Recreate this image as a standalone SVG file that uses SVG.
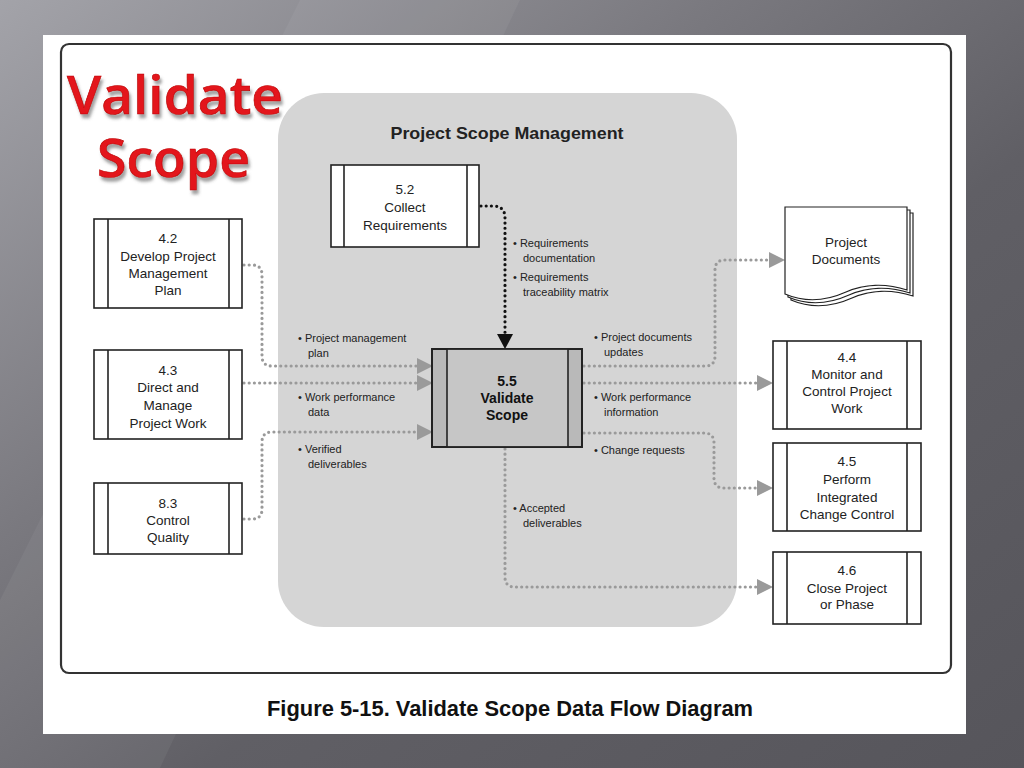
<svg xmlns="http://www.w3.org/2000/svg" width="1024" height="768" viewBox="0 0 1024 768">
<defs>
<linearGradient id="bg" x1="0" y1="0" x2="1" y2="1">
<stop offset="0" stop-color="#a3a3a9"/>
<stop offset="0.35" stop-color="#7a797f"/>
<stop offset="0.6" stop-color="#605f65"/>
<stop offset="1" stop-color="#56555b"/>
</linearGradient>
<filter id="sh" x="-10%" y="-10%" width="130%" height="140%">
<feGaussianBlur in="SourceAlpha" stdDeviation="1.5"/>
<feOffset dx="2" dy="4" result="o"/>
<feFlood flood-color="#555" flood-opacity="0.55"/>
<feComposite in2="o" operator="in"/>
<feMerge><feMergeNode/><feMergeNode in="SourceGraphic"/></feMerge>
</filter>
<style>
.box{fill:#fff;stroke:#222;stroke-width:1.6}
.ln{stroke:#222;stroke-width:1.6}
.t{font-family:"Liberation Sans",Arial,sans-serif;font-size:13.5px;fill:#222;text-anchor:middle}
.tb{font-family:"Liberation Sans",Arial,sans-serif;font-size:14px;font-weight:bold;fill:#111;text-anchor:middle}
.lb{font-family:"Liberation Sans",Arial,sans-serif;font-size:11px;fill:#222}
.dg{fill:none;stroke:#9a9a9a;stroke-width:3.2;stroke-linecap:round;stroke-dasharray:0 5.2}
.dk{fill:none;stroke:#111;stroke-width:3.2;stroke-linecap:round;stroke-dasharray:0 5.2}
.ag{fill:#9a9a9a}
.ak{fill:#111}
</style>
</defs>
<rect width="1024" height="768" fill="url(#bg)"/>
<polygon points="300,0 520,0 160,768 0,768 0,600" fill="#ffffff" opacity="0.05"/>
<rect x="43" y="35" width="923" height="699" fill="#fff"/>
<rect x="61" y="44" width="890" height="629" rx="8" fill="none" stroke="#333" stroke-width="2.2"/>
<rect x="278" y="93" width="459" height="534" rx="46" fill="#d5d5d5"/>

<g id="title" filter="url(#sh)" font-family="'Open Sans',Lato,sans-serif" font-weight="600" fill="#e3141a" stroke="#b00" stroke-width="0.6">
<text x="67" y="114" font-size="52" textLength="216" lengthAdjust="spacingAndGlyphs">Validate</text>
<text x="97" y="177" font-size="52" textLength="153" lengthAdjust="spacingAndGlyphs">Scope</text>
</g>

<text x="507" y="139" font-family="'Liberation Sans',Arial,sans-serif" font-size="17" font-weight="bold" fill="#222" text-anchor="middle" textLength="233" lengthAdjust="spacingAndGlyphs">Project Scope Management</text>

<g id="connectors">
<path class="dk" d="M481,206 H493 Q505,206 505,218 V334"/>
<polygon class="ak" points="497,334 513,334 505,349"/>
<path class="dg" d="M244,265 H252 Q262,265 262,275 V356 Q262,366 272,366 H416"/>
<polygon class="ag" points="417,358 433,366 417,374"/>
<path class="dg" d="M244,383 H416"/>
<polygon class="ag" points="417,375 433,383 417,391"/>
<path class="dg" d="M244,519 H252 Q262,519 262,509 V442 Q262,432 272,432 H416"/>
<polygon class="ag" points="417,424 433,432 417,440"/>
<path class="dg" d="M584,366 H705 Q715,366 715,356 V270 Q715,260 725,260 H768"/>
<polygon class="ag" points="769,252 785,260 769,268"/>
<path class="dg" d="M584,383 H756"/>
<polygon class="ag" points="757,375 773,383 757,391"/>
<path class="dg" d="M584,433 H704 Q714,433 714,443 V478 Q714,488 724,488 H756"/>
<polygon class="ag" points="757,480 773,488 757,496"/>
<path class="dg" d="M505,449 V577 Q505,587 515,587 H756"/>
<polygon class="ag" points="757,579 773,587 757,595"/>
</g>

<g id="labels" class="lb">
<text x="513" y="247">• Requirements</text>
<text x="523" y="262">documentation</text>
<text x="513" y="281">• Requirements</text>
<text x="523" y="296">traceability matrix</text>
<text x="298" y="342">• Project management</text>
<text x="308" y="357">plan</text>
<text x="298" y="401">• Work performance</text>
<text x="308" y="416">data</text>
<text x="298" y="453">• Verified</text>
<text x="308" y="468">deliverables</text>
<text x="594" y="341">• Project documents</text>
<text x="604" y="356">updates</text>
<text x="594" y="401">• Work performance</text>
<text x="604" y="416">information</text>
<text x="594" y="454">• Change requests</text>
<text x="513" y="512">• Accepted</text>
<text x="523" y="527">deliverables</text>
</g>

<g id="n52">
<rect class="box" x="331" y="165" width="148" height="82"/>
<line class="ln" x1="344" y1="165" x2="344" y2="247"/>
<line class="ln" x1="467" y1="165" x2="467" y2="247"/>
<text class="t" x="405" y="194">5.2</text>
<text class="t" x="405" y="212">Collect</text>
<text class="t" x="405" y="230">Requirements</text>
</g>

<g id="n42">
<rect class="box" x="94" y="219" width="148" height="89"/>
<line class="ln" x1="108" y1="219" x2="108" y2="308"/>
<line class="ln" x1="229" y1="219" x2="229" y2="308"/>
<text class="t" x="168" y="243">4.2</text>
<text class="t" x="168" y="261">Develop Project</text>
<text class="t" x="168" y="278">Management</text>
<text class="t" x="168" y="295">Plan</text>
</g>

<g id="n43">
<rect class="box" x="94" y="350" width="148" height="89"/>
<line class="ln" x1="108" y1="350" x2="108" y2="439"/>
<line class="ln" x1="229" y1="350" x2="229" y2="439"/>
<text class="t" x="168" y="375">4.3</text>
<text class="t" x="168" y="392">Direct and</text>
<text class="t" x="168" y="410">Manage</text>
<text class="t" x="168" y="428">Project Work</text>
</g>

<g id="n83">
<rect class="box" x="94" y="483" width="148" height="71"/>
<line class="ln" x1="108" y1="483" x2="108" y2="554"/>
<line class="ln" x1="229" y1="483" x2="229" y2="554"/>
<text class="t" x="168" y="508">8.3</text>
<text class="t" x="168" y="525">Control</text>
<text class="t" x="168" y="542">Quality</text>
</g>

<g id="n55">
<rect x="432" y="349" width="150" height="98" fill="#b9b9b9" stroke="#222" stroke-width="1.8"/>
<rect x="447" y="349" width="121" height="98" fill="#c6c6c6"/>
<line class="ln" x1="447" y1="349" x2="447" y2="447"/>
<line class="ln" x1="568" y1="349" x2="568" y2="447"/>
<rect x="432" y="349" width="150" height="98" fill="none" stroke="#222" stroke-width="1.8"/>
<text class="tb" x="507" y="386">5.5</text>
<text class="tb" x="507" y="403">Validate</text>
<text class="tb" x="507" y="420">Scope</text>
</g>

<g id="docs" fill="#fff" stroke="#222" stroke-width="1.2">
<path d="M791,213 H913 V296 C892,289 870,290 852,298 C832,307 812,309 791,300 Z"/>
<path d="M788,210 H910 V293 C889,286 867,287 849,295 C829,304 809,306 788,297 Z"/>
<path d="M785,207 H907 V290 C886,283 864,284 846,292 C826,301 806,303 785,294 Z"/>
<text class="t" x="846" y="247" stroke="none">Project</text>
<text class="t" x="846" y="264" stroke="none">Documents</text>
</g>

<g id="n44">
<rect class="box" x="773" y="341" width="148" height="88"/>
<line class="ln" x1="787" y1="341" x2="787" y2="429"/>
<line class="ln" x1="907" y1="341" x2="907" y2="429"/>
<text class="t" x="847" y="362">4.4</text>
<text class="t" x="847" y="379">Monitor and</text>
<text class="t" x="847" y="396">Control Project</text>
<text class="t" x="847" y="413">Work</text>
</g>

<g id="n45">
<rect class="box" x="773" y="443" width="148" height="88"/>
<line class="ln" x1="787" y1="443" x2="787" y2="531"/>
<line class="ln" x1="907" y1="443" x2="907" y2="531"/>
<text class="t" x="847" y="466">4.5</text>
<text class="t" x="847" y="484">Perform</text>
<text class="t" x="847" y="502">Integrated</text>
<text class="t" x="847" y="519">Change Control</text>
</g>

<g id="n46">
<rect class="box" x="773" y="552" width="148" height="72"/>
<line class="ln" x1="787" y1="552" x2="787" y2="624"/>
<line class="ln" x1="907" y1="552" x2="907" y2="624"/>
<text class="t" x="847" y="575">4.6</text>
<text class="t" x="847" y="593">Close Project</text>
<text class="t" x="847" y="609">or Phase</text>
</g>

<text x="267" y="716" font-family="'Liberation Sans',Arial,sans-serif" font-size="22" font-weight="bold" fill="#111" textLength="486" lengthAdjust="spacingAndGlyphs">Figure 5-15. Validate Scope Data Flow Diagram</text>
</svg>
